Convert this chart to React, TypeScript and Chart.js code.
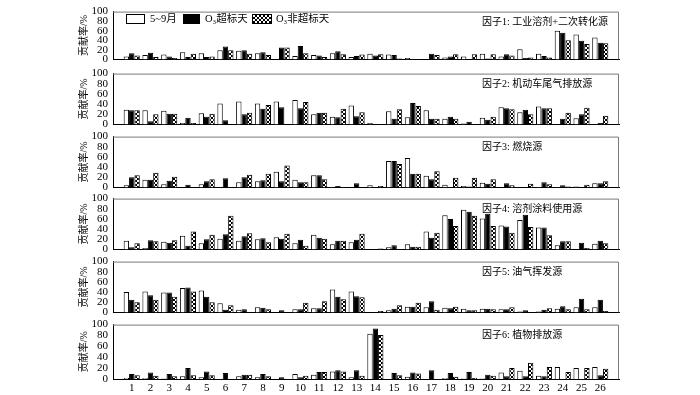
import React, { useEffect, useRef } from 'react';
import { Chart, registerables } from 'chart.js';
Chart.register(...registerables);

// ---------- data ----------
const categories = ['1','2','3','4','5','6','7','8','9','10','11','12','13','14','15','16','17','18','19','20','21','22','23','24','25','26'];
const seriesNames = ['5~9月', 'O₃超标天', 'O₃非超标天'];
const panelTitles = ['因子1: 工业溶剂+二次转化源', '因子2: 机动车尾气排放源', '因子3: 燃烧源', '因子4: 溶剂涂料使用源', '因子5: 油气挥发源', '因子6: 植物排放源'];
const yTickValues = [0, 20, 40, 60, 80, 100];
const yAxisTitle = '贡献率/%';

const f1Season = [6, 9, 10, 15, 13, 19, 18, 13, 0, 7, 9, 13, 5, 12, 10, 3, 0, 4, 6, 12, 6, 21, 12, 60, 52, 46];
const f1Exceed = [13, 14, 6, 5, 5, 27, 19, 15, 25, 28, 8, 17, 7, 8, 9, 1, 12, 6, 1, 2, 11, 3, 7, 56, 39, 35];
const f1NonExceed = [8, 5, 3, 12, 6, 19, 12, 9, 25, 13, 5, 11, 10, 11, 2, 1, 9, 11, 11, 11, 8, 4, 4, 40, 32, 34];

const f2Season = [29, 28, 27, 3, 22, 41, 45, 41, 45, 48, 20, 15, 37, 3, 26, 14, 28, 11, 2, 13, 34, 24, 35, 0, 12, 0];
const f2Exceed = [28, 6, 21, 13, 15, 8, 20, 31, 34, 32, 23, 14, 16, 0, 11, 42, 11, 15, 5, 9, 32, 29, 32, 11, 20, 3];
const f2NonExceed = [28, 20, 21, 3, 21, 0, 23, 38, 0, 44, 23, 31, 24, 1, 30, 36, 11, 11, 0, 15, 30, 20, 32, 23, 33, 17];

const f3Season = [4, 15, 6, 0, 6, 0, 10, 12, 31, 15, 24, 1, 0, 4, 52, 58, 23, 5, 3, 9, 0, 0, 1, 1, 2, 8];
const f3Exceed = [20, 15, 13, 5, 12, 18, 20, 14, 12, 10, 24, 3, 8, 0, 52, 27, 16, 1, 2, 7, 8, 1, 10, 4, 0, 8];
const f3NonExceed = [24, 29, 21, 0, 16, 1, 25, 27, 43, 10, 16, 1, 0, 3, 46, 27, 32, 19, 19, 16, 4, 7, 6, 2, 5, 12];

const f4Season = [17, 3, 15, 27, 12, 21, 17, 20, 24, 12, 29, 10, 14, 0, 4, 10, 35, 67, 78, 61, 47, 58, 43, 8, 0, 11];
const f4Exceed = [4, 18, 13, 7, 20, 30, 26, 22, 21, 19, 23, 17, 19, 0, 8, 5, 23, 60, 74, 70, 45, 68, 43, 16, 13, 17];
const f4NonExceed = [12, 16, 18, 35, 29, 66, 32, 14, 31, 7, 21, 17, 31, 2, 0, 5, 33, 46, 66, 46, 33, 44, 28, 16, 3, 12];

const f5Season = [40, 41, 39, 48, 43, 18, 5, 10, 0, 6, 8, 45, 41, 0, 4, 11, 10, 9, 7, 7, 6, 2, 2, 7, 10, 10];
const f5Exceed = [25, 34, 39, 49, 31, 5, 6, 9, 4, 6, 8, 31, 32, 1, 7, 11, 22, 8, 4, 7, 6, 4, 5, 12, 27, 25];
const f5NonExceed = [20, 25, 31, 41, 20, 14, 0, 6, 0, 19, 22, 26, 30, 3, 14, 19, 5, 11, 4, 6, 10, 0, 8, 6, 6, 3];

const f6Season = [2, 2, 1, 5, 3, 0, 5, 3, 0, 9, 8, 14, 3, 83, 0, 4, 0, 2, 1, 1, 12, 15, 6, 22, 20, 22];
const f6Exceed = [9, 12, 9, 20, 14, 11, 8, 9, 3, 3, 13, 16, 16, 93, 11, 12, 16, 11, 13, 8, 5, 5, 5, 0, 0, 7];
const f6NonExceed = [7, 6, 5, 7, 7, 0, 8, 5, 0, 6, 13, 14, 6, 81, 7, 10, 0, 4, 2, 6, 20, 30, 22, 13, 20, 19];

const panelSeries = [
  [f1Season, f1Exceed, f1NonExceed],
  [f2Season, f2Exceed, f2NonExceed],
  [f3Season, f3Exceed, f3NonExceed],
  [f4Season, f4Exceed, f4NonExceed],
  [f5Season, f5Exceed, f5NonExceed],
  [f6Season, f6Exceed, f6NonExceed],
];

// ---------- layout ----------
const W = 700;
const PLOT_LEFT = 113;
const PLOT_RIGHT = 619;
const PANEL_TOPS = [7, 72, 135, 197, 260, 323];
const PANEL_H = 56;
const FONT = '"Liberation Serif", "Noto Sans CJK SC", serif';

function makeHatch(): CanvasPattern | string {
  const c = document.createElement('canvas');
  c.width = 4; c.height = 4;
  const g = c.getContext('2d');
  if (!g) return '#888';
  g.fillStyle = '#fff';
  g.fillRect(0, 0, 4, 4);
  g.fillStyle = '#000';
  for (let i = 0; i < 4; i++) {
    g.fillRect(i, i, 1, 1);
    g.fillRect(i, 3 - i, 1, 1);
  }
  return g.createPattern(c, 'repeat') || '#888';
}

function Panel({ index }: { index: number }) {
  const ref = useRef<HTMLCanvasElement | null>(null);
  const isLast = index === 5;
  const top = PANEL_TOPS[index];
  const padTop = Math.min(10, top);
  const padBottom = isLast ? 0 : 8;
  const xAxisH = isLast ? 16 : 0;
  const canvasTop = top - padTop;
  const H = padTop + PANEL_H + xAxisH + padBottom;

  useEffect(() => {
    const canvas = ref.current;
    if (!canvas) return;
    const hatch = makeHatch();
    const labels = ['', ...categories, ''];
    const pad = (a: number[]) => [null, ...a, null];
    const [s0, s1, s2] = panelSeries[index];
    const common = { borderColor: '#000', borderWidth: 1, categoryPercentage: 0.86, barPercentage: 1.0 };

    const decor = {
      id: 'decor' + index,
      afterDraw(chart: any) {
        const { ctx, chartArea } = chart;
        const { left, right, top: t, bottom } = chartArea;
        ctx.save();
        // top & right frame
        ctx.strokeStyle = '#7a7a7a';
        ctx.lineWidth = 1;
        ctx.beginPath();
        ctx.moveTo(left, t + 0.5);
        ctx.lineTo(right - 0.5, t + 0.5);
        ctx.lineTo(right - 0.5, bottom);
        ctx.stroke();
        // panel title
        ctx.fillStyle = '#000';
        ctx.font = '10px ' + FONT;
        ctx.textAlign = 'left';
        ctx.textBaseline = 'middle';
        ctx.fillText(panelTitles[index], 482, t + 11);
        // y axis title
        ctx.save();
        ctx.translate(84, (t + bottom) / 2);
        ctx.rotate(-Math.PI / 2);
        ctx.textAlign = 'center';
        ctx.font = '10px ' + FONT;
        ctx.fillText(yAxisTitle, 0, 0);
        ctx.restore();
        // legend (first panel)
        if (index === 0) {
          const ly = 14 - canvasTop;
          const boxes = [
            { x: 126, w: 19, fill: '#fff', tx: 150 },
            { x: 183, w: 17, fill: '#000', tx: 205 },
            { x: 252, w: 20, fill: hatch, tx: 276 },
          ];
          boxes.forEach((b, i) => {
            ctx.fillStyle = b.fill as any;
            ctx.fillRect(b.x, ly, b.w, 10);
            ctx.strokeStyle = '#000';
            ctx.strokeRect(b.x + 0.5, ly + 0.5, b.w - 1, 9);
            ctx.fillStyle = '#000';
            ctx.font = '10.5px ' + FONT;
            ctx.textAlign = 'left';
            ctx.textBaseline = 'middle';
            ctx.fillText(seriesNames[i], b.tx, ly + 5.5);
          });
        }
        ctx.restore();
      },
    };

    const chart = new Chart(canvas, {
      type: 'bar',
      data: {
        labels,
        datasets: [
          { label: seriesNames[0], data: pad(s0), backgroundColor: '#fff', ...common },
          { label: seriesNames[1], data: pad(s1), backgroundColor: '#000', ...common },
          { label: seriesNames[2], data: pad(s2), backgroundColor: hatch as any, ...common },
        ] as any,
      },
      options: {
        animation: false,
        responsive: false,
        maintainAspectRatio: false,
        events: [],
        layout: { padding: { top: padTop, left: 0, right: W - PLOT_RIGHT, bottom: padBottom } },
        plugins: { legend: { display: false }, tooltip: { enabled: false }, title: { display: false } },
        scales: {
          x: {
            type: 'category',
            offset: false,
            grid: { display: false, drawTicks: false },
            border: { display: true, color: '#000', width: 1 },
            ticks: { display: isLast, color: '#000', font: { family: FONT, size: 11 }, padding: 3, maxRotation: 0, autoSkip: false },
            afterFit: (s: any) => { s.height = xAxisH; },
          },
          y: {
            min: 0,
            max: 100,
            afterBuildTicks: (s: any) => { s.ticks = yTickValues.map((v) => ({ value: v })); },
            grid: { display: false, drawTicks: false },
            border: { display: true, color: '#000', width: 1 },
            ticks: { color: '#000', font: { family: FONT, size: 11 }, padding: 5, autoSkip: false },
            afterFit: (s: any) => { s.width = PLOT_LEFT; },
          },
        },
      } as any,
      plugins: [decor],
    });
    return () => chart.destroy();
  }, [index]);

  return (
    <canvas
      ref={ref}
      width={W}
      height={H}
      style={{ position: 'absolute', left: 0, top: canvasTop, width: W, height: H }}
    />
  );
}

export default function App() {
  return (
    <div style={{ position: 'absolute', left: 0, top: 0, width: W, height: 395, background: '#fff', overflow: 'hidden' }}>
      {[0, 1, 2, 3, 4, 5].map((i) => (
        <Panel key={i} index={i} />
      ))}
    </div>
  );
}
